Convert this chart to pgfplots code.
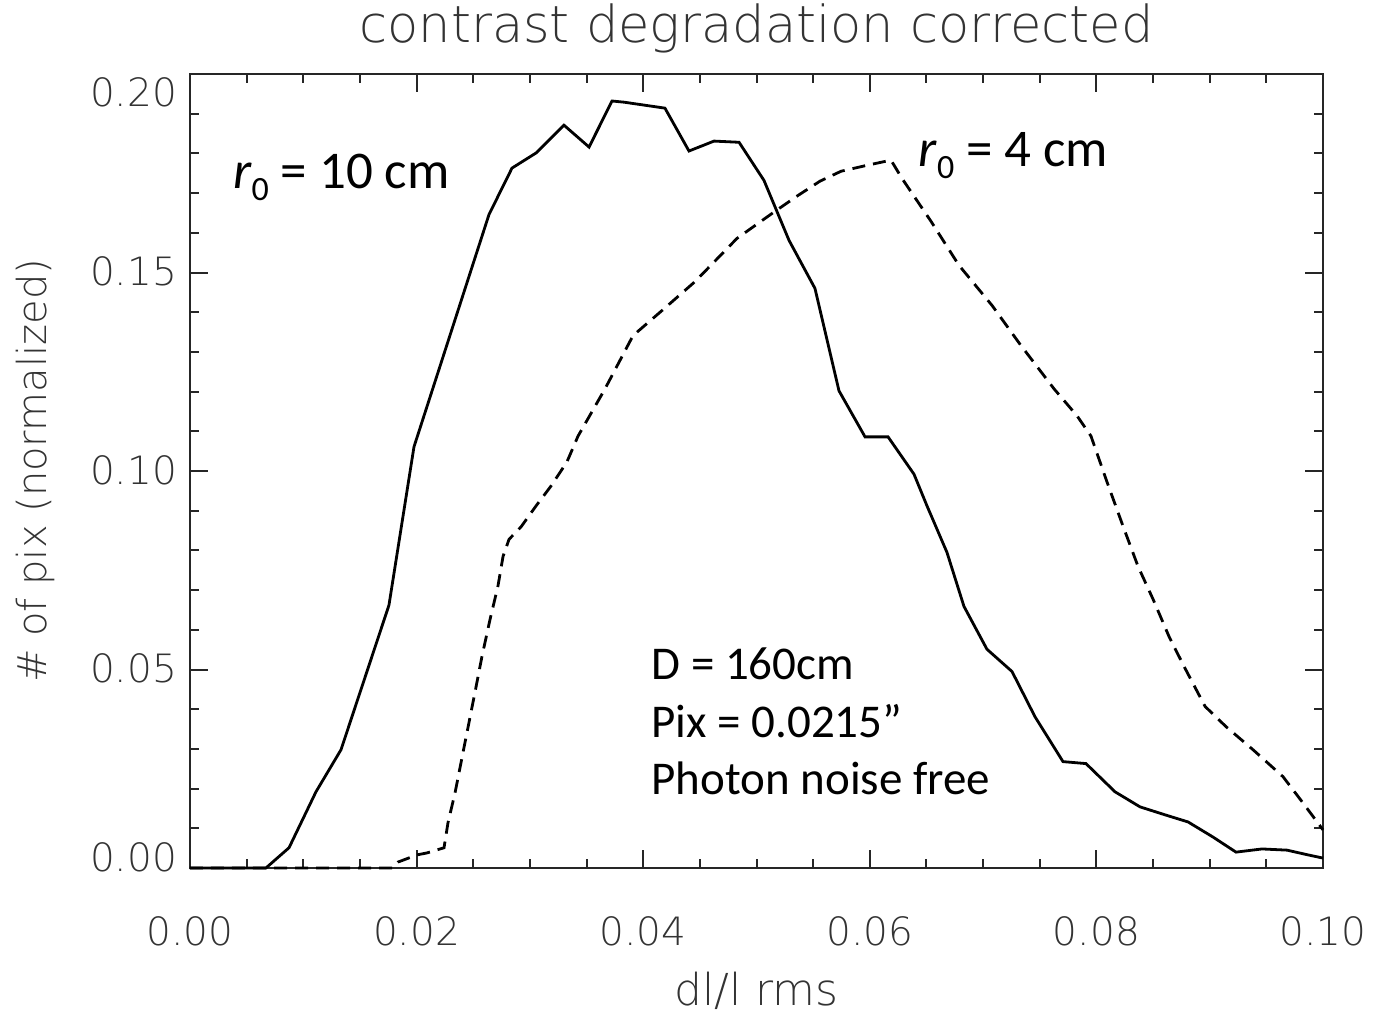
\documentclass[border=0pt]{standalone}
\usepackage{fontspec}
\setmainfont{DejaVu Sans}
\newfontfamily\hershey{DejaVu Sans ExtraLight}
\newfontfamily\calibri{Carlito}
\usepackage{pgfplots}
\pgfplotsset{compat=1.18}
\newcommand{\rsub}[1]{{\itshape r}\raisebox{-6pt}{\fontsize{17}{18}\selectfont #1}}
\begin{document}
\begin{tikzpicture}
\begin{axis}[
  scale only axis, width=566.5pt, height=397pt,
  xmin=0, xmax=0.1, ymin=0, ymax=0.2,
  axis line style={black!85, line width=1.1pt},
  every tick/.style={black!85, line width=1pt},
  tick align=inside, xtick pos=both, ytick pos=both,
  major tick length=9pt, minor tick length=4.5pt,
  xtick={0,0.02,0.04,0.06,0.08,0.1},
  xticklabels={0.00,0.02,0.04,0.06,0.08,0.10},
  minor x tick num=3,
  ytick={0,0.05,0.1,0.15,0.2},
  yticklabels={\raisebox{5pt}{0.00},0.05,0.10,0.15,\raisebox{-10pt}{0.20}},
  minor y tick num=4,
  scaled ticks=false,
  ticklabel style={font=\hershey\fontsize{19.5}{22}\selectfont, black!80},
  xticklabel style={anchor=base, yshift=-38.5pt},
  yticklabel style={anchor=base east, xshift=-3pt, yshift=-6.5pt},
  title={contrast degradation corrected},
  title style={font=\hershey\fontsize{25.5}{28}\selectfont, black!80, at={([yshift=9.5pt]axis description cs:0.5,1)}, anchor=base},
  xlabel={dl/l rms},
  xlabel style={font=\hershey\fontsize{22}{26}\selectfont, black!80, at={([yshift=-68.5pt]axis description cs:0.5,0)}, anchor=base},
  ylabel={\# of pix (normalized)},
  ylabel style={font=\hershey\fontsize{20}{24}\selectfont, black!80, at={([xshift=-71.5pt]axis description cs:0,0.5)}, anchor=base, rotate=0},
  clip=false,
]
\addplot[black, line width=1.4pt] coordinates {
(0,0) (0.0067,0) (0.00874,0.0051) (0.01112,0.0192) (0.01333,0.0298) (0.01756,0.0662)
(0.01977,0.1061) (0.02639,0.1646) (0.02842,0.1763) (0.03054,0.1801) (0.03301,0.1871)
(0.03522,0.1816) (0.03725,0.1932) (0.03831,0.1929) (0.04192,0.1914) (0.04404,0.1806)
(0.04625,0.1831) (0.04846,0.1828) (0.05066,0.1732) (0.05287,0.1581) (0.05516,0.1460)
(0.05728,0.1202) (0.05958,0.1086) (0.06161,0.1086) (0.06390,0.0992) (0.06505,0.0912)
(0.06681,0.0795) (0.06831,0.0659) (0.07034,0.0551) (0.07255,0.0495) (0.07458,0.0381)
(0.07705,0.0268) (0.07908,0.0263) (0.08164,0.0192) (0.08385,0.0154) (0.08605,0.0134)
(0.08809,0.0116) (0.09029,0.0078) (0.09232,0.0040) (0.09462,0.0048) (0.09682,0.0045)
(0.09868,0.0033) (0.1,0.0025)
};
\addplot[black, line width=1.4pt, dash pattern=on 6.5pt off 4pt] coordinates {
(0,0) (0.01783,0) (0.01836,0.0015) (0.02004,0.0033) (0.02092,0.0038) (0.02242,0.0051)
(0.02277,0.0114) (0.02339,0.0189) (0.02427,0.0316) (0.02515,0.0442) (0.02577,0.0533)
(0.02648,0.0626) (0.02718,0.0710) (0.02763,0.0785) (0.02816,0.0828) (0.02921,0.0859)
(0.03054,0.0912) (0.03186,0.0962) (0.03327,0.1023) (0.03425,0.1088) (0.03663,0.1207)
(0.03910,0.1341) (0.04157,0.1402) (0.04457,0.1477) (0.04828,0.1586) (0.05163,0.1654)
(0.05366,0.1694) (0.05560,0.1730) (0.05746,0.1755) (0.05975,0.1770) (0.06187,0.1783)
(0.06284,0.1737) (0.06540,0.1629) (0.06787,0.1518) (0.07079,0.1417) (0.07334,0.1316)
(0.07626,0.1207) (0.07829,0.1139) (0.07952,0.1088) (0.08094,0.0972) (0.08235,0.0861)
(0.08367,0.0760) (0.08500,0.0677) (0.08641,0.0583) (0.08773,0.0508) (0.08959,0.0407)
(0.09144,0.0356) (0.09382,0.0298) (0.09647,0.0230) (0.09823,0.0164) (0.1,0.0096)
};
\node[anchor=base west, inner sep=0pt, font=\calibri\fontsize{26.5}{30}\selectfont] at (axis cs:0.0038,0.1712) {\rsub{0} = 10 cm};
\node[anchor=base west, inner sep=0pt, font=\calibri\fontsize{26.5}{30}\selectfont] at (axis cs:0.0643,0.1768) {\rsub{0} = 4 cm};
\node[anchor=base west, inner sep=0pt, font=\calibri\fontsize{23.5}{26}\selectfont] at (axis cs:0.0407,0.0475) {D = 160cm};
\node[anchor=base west, inner sep=0pt, font=\calibri\fontsize{23.5}{26}\selectfont] at (axis cs:0.0407,0.0328) {Pix = 0.0215”};
\node[anchor=base west, inner sep=0pt, font=\calibri\fontsize{23.5}{26}\selectfont] at (axis cs:0.0407,0.0184) {Photon noise free};
\end{axis}
\pgfresetboundingbox
\path ([shift={(-95pt,-74.5pt)}]current axis.south west) rectangle ([shift={(25.5pt,37pt)}]current axis.north east);
\end{tikzpicture}
\end{document}
